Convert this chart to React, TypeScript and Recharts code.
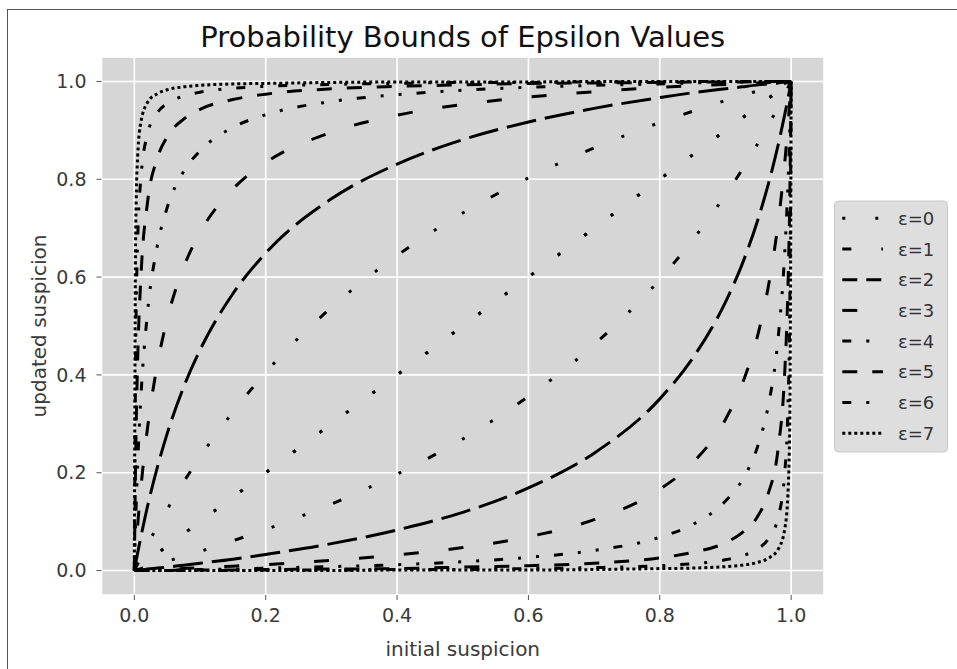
import { LineChart, Line, XAxis, YAxis, CartesianGrid } from "recharts";

// initial suspicion (shared x grid, denser near the corners)
const xs = [0, 0.002, 0.005, 0.01, 0.02, 0.035, 0.05, 0.075, 0.1, 0.15, 0.2, 0.3, 0.4, 0.5, 0.6, 0.7, 0.8, 0.85, 0.9, 0.925, 0.95, 0.965, 0.98, 0.99, 0.995, 0.998, 1];

// updated suspicion, upper / lower bound per epsilon
const upper0 = [0, 0.002, 0.005, 0.01, 0.02, 0.035, 0.05, 0.075, 0.1, 0.15, 0.2, 0.3, 0.4, 0.5, 0.6, 0.7, 0.8, 0.85, 0.9, 0.925, 0.95, 0.965, 0.98, 0.99, 0.995, 0.998, 1];
const lower0 = [0, 0.002, 0.005, 0.01, 0.02, 0.035, 0.05, 0.075, 0.1, 0.15, 0.2, 0.3, 0.4, 0.5, 0.6, 0.7, 0.8, 0.85, 0.9, 0.925, 0.95, 0.965, 0.98, 0.99, 0.995, 0.998, 1];
const upper1 = [0, 0.005, 0.013, 0.027, 0.053, 0.09, 0.125, 0.181, 0.232, 0.324, 0.405, 0.538, 0.644, 0.731, 0.803, 0.864, 0.916, 0.939, 0.961, 0.971, 0.981, 0.987, 0.993, 0.996, 0.998, 0.999, 1];
const lower1 = [0, 0.001, 0.002, 0.004, 0.007, 0.013, 0.019, 0.029, 0.039, 0.061, 0.084, 0.136, 0.197, 0.269, 0.356, 0.462, 0.595, 0.676, 0.768, 0.819, 0.875, 0.91, 0.947, 0.973, 0.987, 0.995, 1];
const upper2 = [0, 0.015, 0.036, 0.069, 0.131, 0.211, 0.28, 0.375, 0.451, 0.566, 0.649, 0.76, 0.831, 0.881, 0.917, 0.945, 0.967, 0.977, 0.985, 0.989, 0.993, 0.995, 0.997, 0.999, 0.999, 1, 1];
const lower2 = [0, 0, 0.001, 0.001, 0.003, 0.005, 0.007, 0.011, 0.015, 0.023, 0.033, 0.055, 0.083, 0.119, 0.169, 0.24, 0.351, 0.434, 0.549, 0.625, 0.72, 0.789, 0.869, 0.931, 0.964, 0.985, 1];
const upper3 = [0, 0.039, 0.092, 0.169, 0.291, 0.421, 0.514, 0.62, 0.691, 0.78, 0.834, 0.896, 0.931, 0.953, 0.968, 0.979, 0.988, 0.991, 0.994, 0.996, 0.997, 0.998, 0.999, 1, 1, 1, 1];
const lower3 = [0, 0, 0, 0.0005, 0.001, 0.002, 0.003, 0.004, 0.006, 0.009, 0.012, 0.021, 0.032, 0.047, 0.069, 0.104, 0.166, 0.22, 0.309, 0.38, 0.486, 0.579, 0.709, 0.831, 0.908, 0.961, 1];
const upper4 = [0, 0.099, 0.215, 0.355, 0.527, 0.664, 0.742, 0.816, 0.858, 0.906, 0.932, 0.959, 0.973, 0.982, 0.988, 0.992, 0.995, 0.997, 0.998, 0.999, 0.999, 0.999, 1, 1, 1, 1, 1];
const lower4 = [0, 0, 0, 0, 0, 0.001, 0.001, 0.001, 0.002, 0.003, 0.005, 0.008, 0.012, 0.018, 0.027, 0.041, 0.068, 0.094, 0.142, 0.184, 0.258, 0.336, 0.473, 0.645, 0.785, 0.901, 1];
const upper5 = [0, 0.229, 0.427, 0.6, 0.752, 0.843, 0.887, 0.923, 0.943, 0.963, 0.974, 0.985, 0.99, 0.993, 0.996, 0.997, 0.998, 0.999, 0.999, 0.999, 1, 1, 1, 1, 1, 1, 1];
const lower5 = [0, 0, 0, 0, 0, 0, 0, 0.001, 0.001, 0.001, 0.002, 0.003, 0.004, 0.007, 0.01, 0.015, 0.026, 0.037, 0.057, 0.077, 0.113, 0.157, 0.248, 0.4, 0.573, 0.771, 1];
const upper6 = [0, 0.447, 0.67, 0.803, 0.892, 0.936, 0.955, 0.97, 0.978, 0.986, 0.99, 0.994, 0.996, 0.998, 0.998, 0.999, 0.999, 1, 1, 1, 1, 1, 1, 1, 1, 1, 1];
const lower6 = [0, 0, 0, 0, 0, 0, 0, 0, 0, 0, 0.001, 0.001, 0.002, 0.002, 0.004, 0.006, 0.01, 0.014, 0.022, 0.03, 0.045, 0.064, 0.108, 0.197, 0.33, 0.553, 1];
const upper7 = [0, 0.687, 0.846, 0.917, 0.957, 0.975, 0.983, 0.989, 0.992, 0.995, 0.996, 0.998, 0.999, 0.999, 0.999, 1, 1, 1, 1, 1, 1, 1, 1, 1, 1, 1, 1];
const lower7 = [0, 0, 0, 0, 0, 0, 0, 0, 0, 0, 0, 0, 0.001, 0.001, 0.001, 0.002, 0.004, 0.005, 0.008, 0.011, 0.017, 0.025, 0.043, 0.083, 0.154, 0.313, 1];

const epsilons = [0, 1, 2, 3, 4, 5, 6, 7];
const uppers = [upper0, upper1, upper2, upper3, upper4, upper5, upper6, upper7];
const lowers = [lower0, lower1, lower2, lower3, lower4, lower5, lower6, lower7];
const ticks = [0, 0.2, 0.4, 0.6, 0.8, 1.0];

// dash patterns (as matplotlib draws them at lw=3)
const plotDash = ["3 30", "9 30 3 30 3 30", "30 9", "15 30", "9 15 3 15 3 15", "15 15", "9 15 3 15", "3 3"];
const legendDash = ["3 30", "9 30 3 30 3 30", "15 9", "15 30", "9 15 3 15 3 15", "15 15", "9 15 3 15", "3 3"];

const data = xs.map((x, i) => {
  const row: Record<string, number> = { x };
  epsilons.forEach((e) => {
    row[`u${e}`] = uppers[e][i];
    row[`l${e}`] = lowers[e][i];
  });
  return row;
});

const font = "'DejaVu Sans', sans-serif";

export default function App() {
  return (
    <div style={{ position: "absolute", left: 0, top: 0, width: 957, height: 669, background: "#fff", fontFamily: font }}>
      <LineChart width={957} height={669} data={data} margin={{ top: 57, right: 133, bottom: 44, left: 41.5 }}>
        <CartesianGrid fill="#d6d6d6" fillOpacity={1} stroke="#ffffff" strokeWidth={1.6} />
        <XAxis
          type="number"
          dataKey="x"
          domain={[-0.05, 1.05]}
          ticks={ticks}
          tickFormatter={(v) => v.toFixed(1)}
          axisLine={false}
          tickSize={5}
          tickMargin={9}
          height={30}
          tickLine={{ stroke: "#555" }}
          tick={{ fontSize: 19, fill: "#3a3a3a", fontFamily: font }}
        />
        <YAxis
          type="number"
          domain={[-0.05, 1.05]}
          ticks={ticks}
          tickFormatter={(v) => v.toFixed(1)}
          axisLine={false}
          tickSize={5}
          tickMargin={10}
          width={60}
          tickLine={{ stroke: "#555" }}
          tick={{ fontSize: 19, fill: "#3a3a3a", fontFamily: font }}
        />
        {epsilons.map((e) => (
          <Line key={`u${e}`} dataKey={`u${e}`} type="monotone" stroke="#000" strokeWidth={3} strokeDasharray={plotDash[e]} dot={false} activeDot={false} isAnimationActive={false} />
        ))}
        {epsilons.map((e) => (
          <Line key={`l${e}`} dataKey={`l${e}`} type="monotone" stroke="#000" strokeWidth={3} strokeDasharray={plotDash[e]} dot={false} activeDot={false} isAnimationActive={false} />
        ))}
      </LineChart>
      <svg width={957} height={669} style={{ position: "absolute", left: 0, top: 0, pointerEvents: "none" }} fontFamily={font}>
        <line x1={7} y1={9.5} x2={957} y2={9.5} stroke="#555" strokeWidth={1} />
        <line x1={7.5} y1={9} x2={7.5} y2={669} stroke="#555" strokeWidth={1} />
        <text x={462.75} y={47} textAnchor="middle" fontSize={29} fill="#111">
          Probability Bounds of Epsilon Values
        </text>
        <text x={462.75} y={656} textAnchor="middle" fontSize={20} fill="#3a3a3a">
          initial suspicion
        </text>
        <text transform="translate(46,326) rotate(-90)" textAnchor="middle" fontSize={20} fill="#3a3a3a">
          updated suspicion
        </text>
        <rect x={834.5} y={201} width={113} height={251} rx={4} fill="#dedede" stroke="#c8c8c8" strokeWidth={1} />
        {epsilons.map((e) => {
          const cy = 218.3 + e * 30.7;
          return (
            <g key={e}>
              <line x1={842.3} y1={cy} x2={883} y2={cy} stroke="#000" strokeWidth={3} strokeDasharray={legendDash[e]} />
              <text x={898} y={cy + 6.5} fontSize={18} fill="#333">{`ε=${e}`}</text>
            </g>
          );
        })}
      </svg>
    </div>
  );
}
